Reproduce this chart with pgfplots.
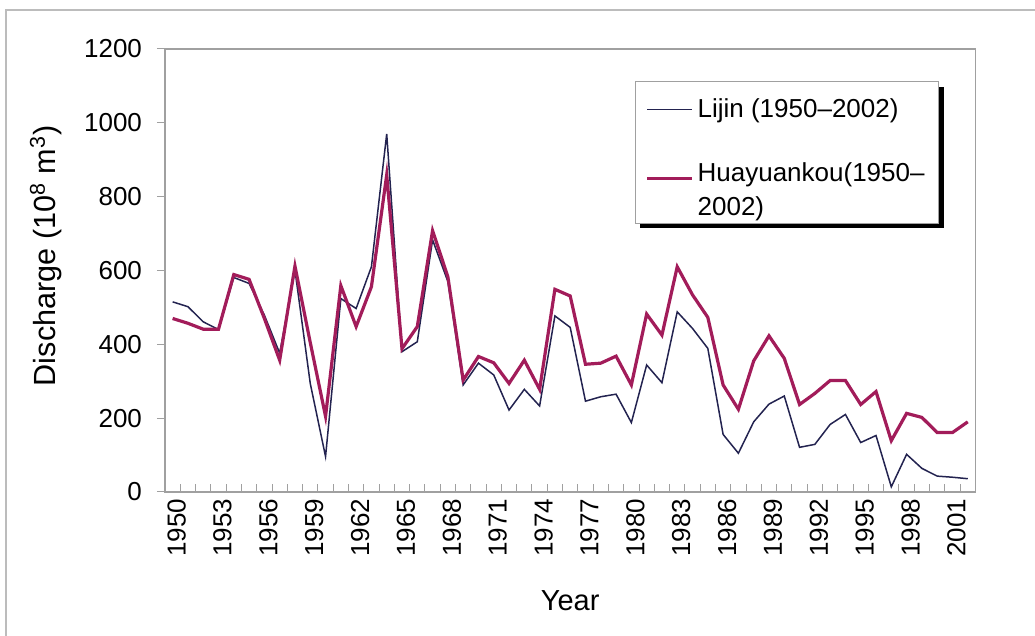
\documentclass[border=0pt]{standalone}
\usepackage{pgfplots}
\pgfplotsset{compat=1.18}
\usepackage{pgfplotstable}
\usepackage{fontspec}
\setmainfont{Liberation Sans}
\usetikzlibrary{backgrounds}
\definecolor{lijin}{RGB}{35,35,80}
\definecolor{hua}{RGB}{162,28,90}
\definecolor{framegray}{RGB}{160,160,160}
\pgfplotsset{
  plainlegend/.style={legend image code/.code={\draw[##1] (0pt,0pt) -- (22.5pt,0pt);}},
  hualegend/.style={legend image code/.code={\draw[##1] (0pt,5pt) -- (22.5pt,5pt); \path (0pt,-5pt);}},
}

\pgfplotstableread{
year lijin hua
1950 515 470
1951 502 457
1952 461 441
1953 440 441
1954 581 589
1955 565 576
1956 479 470
1957 376 357
1958 601 612
1959 294 405
1960 96 205
1961 524 559
1962 497 448
1963 610 556
1964 970 859
1965 380 388
1966 407 448
1967 683 708
1968 570 583
1969 290 303
1970 349 367
1971 317 350
1972 222 294
1973 278 357
1974 233 278
1975 477 549
1976 446 531
1977 246 346
1978 258 349
1979 265 368
1980 188 290
1981 344 482
1982 296 425
1983 488 610
1984 443 534
1985 389 473
1986 156 290
1987 105 224
1988 190 355
1989 238 423
1990 260 362
1991 121 237
1992 129 267
1993 183 302
1994 210 302
1995 134 237
1996 153 272
1997 14 139
1998 102 213
1999 64 202
2000 43 161
2001 40 161
2002 36 190
}\datatable

\begin{document}
\begin{tikzpicture}
\useasboundingbox (-82.5pt,-72pt) rectangle (435pt,246pt);
\draw[framegray!70, line width=0.6pt] (-79.5pt,-80pt) -- (-79.5pt,241pt) -- (450pt,241pt);
\begin{axis}[
  at={(0pt,0pt)}, anchor=south west,
  scale only axis, width=405.2pt, height=221.5pt,
  xmin=1949.5, xmax=2002.5, ymin=0, ymax=1200,
  axis line style={draw=framegray, line width=0.6pt},
  xtick={1950,1953,...,2001},
  minor xtick={1949.5,1950.5,...,2002.5},
  ytick={0,200,...,1200},
  xtick pos=bottom, ytick pos=left,
  tick align=inside,
  major tick length=4pt, minor tick length=4pt,
  major x tick style={draw=none},
  minor x tick style={draw=framegray, line width=0.5pt},
  y tick style={draw=framegray, line width=0.5pt, xshift=-4pt},
  /pgf/number format/assume math mode=true,
  /pgf/number format/1000 sep={},
  tick label style={font=\fontsize{13}{15}\selectfont},
  xticklabel style={rotate=90, anchor=east, yshift=-2pt},
  yticklabel style={xshift=-8pt},
  xlabel={Year}, ylabel={Discharge (10\textsuperscript{8} m\textsuperscript{3})},
  every axis x label/.style={at={(axis description cs:0.5,0)}, yshift=-54.5pt, anchor=center, font=\fontsize{14.5}{17}\selectfont},
  every axis y label/.style={at={(axis description cs:-0.147,0.533)}, rotate=90, anchor=center, font=\fontsize{15.3}{18}\selectfont},
  legend style={name=leg, at={(axis description cs:0.58,0.9255)}, anchor=north west,
    draw=none, fill=none, font=\fontsize{13}{16}\selectfont,
    inner xsep=5pt, inner ysep=6pt, row sep=17pt,
    cells={anchor=west, align=left}},
  legend cell align=left,
]
\addplot[color=lijin, line width=0.75pt, mark=none, plainlegend] table[x=year, y=lijin] {\datatable};
\addlegendentry{Lijin (1950–2002)}
\addplot[color=hua, line width=1.6pt, mark=none, hualegend] table[x=year, y=hua] {\datatable};
\addlegendentry[text depth=-6pt]{Huayuankou(1950–\\[1pt]2002)}
\end{axis}
\begin{scope}[on background layer]
\fill[black] ([xshift=2.5pt,yshift=-2.5pt]leg.north west) rectangle ([xshift=2.5pt,yshift=1.5pt]leg.south east);
\filldraw[fill=white, draw=framegray, line width=0.5pt] (leg.north west) rectangle ([yshift=4pt]leg.south east);
\end{scope}
\end{tikzpicture}
\end{document}
